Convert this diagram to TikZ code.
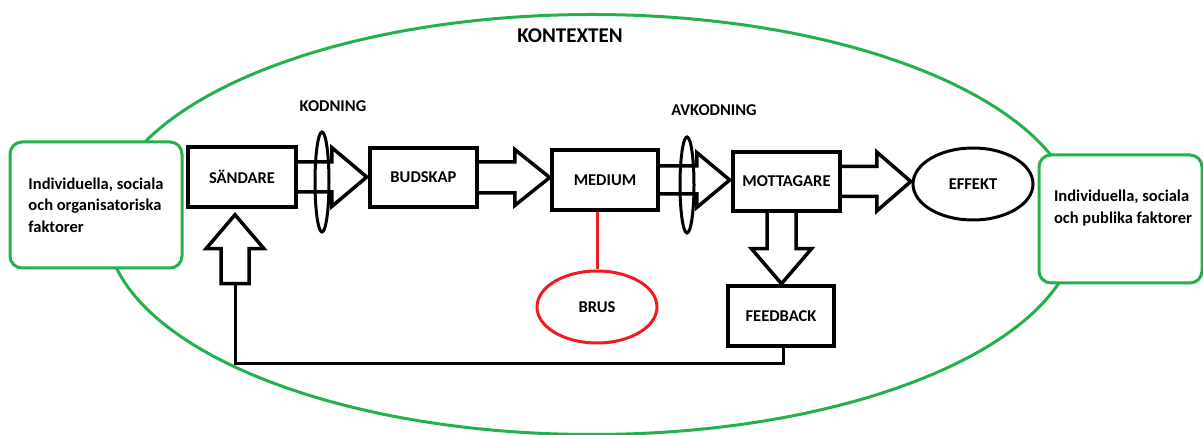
\documentclass[tikz,border=0pt]{standalone}
\usepackage{fontspec}
\setmainfont{Carlito}
\usetikzlibrary{shapes.geometric,calc}
\definecolor{pgreen}{HTML}{22B14C}
\definecolor{pred}{HTML}{ED1C24}
\pgfdeclarelayer{bg}
\pgfsetlayers{bg,main}
\begin{document}
\begin{tikzpicture}[x=1pt,y=-1pt,
  every node/.style={font=\fontsize{16.5}{21.5}\selectfont\bfseries},
  box/.style={draw, line width=3.5pt, fill=white, inner sep=0pt},
  gbox/.style={draw=pgreen, line width=3pt, fill=white, rounded corners=12pt, inner sep=0pt},
  gline/.style={draw=pgreen, line width=3pt},
  barrow/.style={draw, line width=3.5pt, fill=white, line join=miter},
  ring/.style={draw, ellipse, line width=3pt, inner sep=0pt},
  fline/.style={draw, line width=3pt}]
\useasboundingbox (0,0) rectangle (1203,435);

% context ellipse
\begin{pgfonlayer}{bg}
\draw[gline] (592,224.5) ellipse [x radius=486, y radius=210];
\end{pgfonlayer}

% side boxes
\node[gbox, minimum width=172pt, minimum height=126pt, align=left] (lf) at (96,205)
  {Individuella, sociala\\och organisatoriska\\faktorer};
\node[gbox, minimum width=163pt, minimum height=128pt] (rf) at (1120.5,219) {};
\node[align=left] (rftxt) at (1123,208) {Individuella, sociala\\och publika faktorer};

% labels
\node[font=\fontsize{21}{25}\selectfont\bfseries] (ctx) at (570,36) {KONTEXTEN};
\node (kodl) at (333,106) {KODNING};
\node (avkl) at (714,110) {AVKODNING};

% main boxes
\node[box, minimum width=108pt, minimum height=60pt] (s) at (242,177) {SÄNDARE};
\node[box, minimum width=107pt, minimum height=59pt] (b) at (423.5,177.5) {BUDSKAP};
\node[box, minimum width=106pt, minimum height=60pt] (m) at (605,180) {MEDIUM};
\node[box, minimum width=107pt, minimum height=59pt] (mo) at (786.5,181.5) {MOTTAGARE};
\node[box, minimum width=106pt, minimum height=60pt] (f) at (781,316) {FEEDBACK};
\node[ring, minimum width=120pt, minimum height=72pt] (e) at (973,184) {EFFEKT};
\node[ring, draw=pred, fill=white, minimum width=120pt, minimum height=72pt] (br) at (597,307) {BRUS};

\coordinate (ub) at ($(s.south)+(-7,75)$);
\coordinate (db) at ($(mo.south)+(-5,0)$);

\begin{pgfonlayer}{bg}
% block arrows
\filldraw[barrow] ($(s.east)+(0,-15)$) -- ++(34,0) -- ++(0,-14.5) -- ($(s.east)+(69,0)$)
  -- ($(s.east)+(34,29.5)$) -- ++(0,-14.5) -- ($(s.east)+(0,15)$);
\filldraw[barrow] ($(b.east)+(0,-15.5)$) -- ++(36,0) -- ++(0,-12.5) -- ($(b.east)+(71,0)$)
  -- ($(b.east)+(36,28)$) -- ++(0,-12.5) -- ($(b.east)+(0,15.5)$);
\filldraw[barrow] ($(m.east)+(0,-14)$) -- ++(37,0) -- ++(0,-13.5) -- ($(m.east)+(70,0)$)
  -- ($(m.east)+(37,27.5)$) -- ++(0,-13.5) -- ($(m.east)+(0,14)$);
\filldraw[barrow] ($(mo.east)+(0,-15)$) -- ++(35,0) -- ++(0,-14.5) -- ($(mo.east)+(69,0)$)
  -- ($(mo.east)+(35,29.5)$) -- ++(0,-14.5) -- ($(mo.east)+(0,15)$);
\filldraw[barrow] ($(db)+(-14.5,0)$) -- ++(0,36) -- ++(-15.5,0) -- ($(db)+(0,71)$)
  -- ($(db)+(30,36)$) -- ++(-15.5,0) -- ($(db)+(14.5,0)$);
\filldraw[barrow] ($(ub)+(-14,0)$) -- ++(0,-35) -- ++(-15,0) -- ($(ub)+(0,-69)$)
  -- ($(ub)+(29,-35)$) -- ++(-15,0) -- ($(ub)+(14,0)$) -- cycle;
% feedback line
\draw[fline] ($(f.south)+(2,0)$) -- ++(0,16) -| (ub);
% noise line
\draw[pred, line width=3pt] (br.north) -- (br.north |- m.south);
\end{pgfonlayer}

% coding rings
\node[ring, minimum width=14pt, minimum height=100pt] (kod) at (322,182) {};
\node[ring, minimum width=14pt, minimum height=96pt] (avk) at (687,185) {};
\end{tikzpicture}
\end{document}
